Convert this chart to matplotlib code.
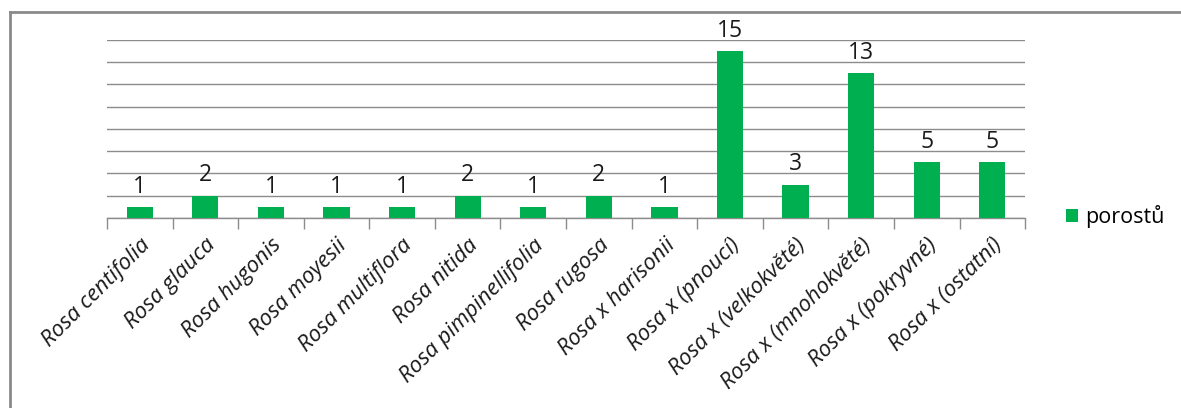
import numpy as np
import matplotlib
matplotlib.use("Agg")
import matplotlib.pyplot as plt
from matplotlib.lines import Line2D
from matplotlib.patches import Patch

# Number of stands per rose group
categories = [
    "Rosa centifolia", "Rosa glauca", "Rosa hugonis", "Rosa moyesii",
    "Rosa multiflora", "Rosa nitida", "Rosa pimpinellifolia", "Rosa rugosa",
    "Rosa x harisonii", "Rosa x (pnoucí)", "Rosa x (velkokvěté)",
    "Rosa x (mnohokvěté)", "Rosa x (pokryvné)", "Rosa x (ostatní)",
]
counts = [1, 2, 1, 1, 1, 2, 1, 2, 1, 15, 3, 13, 5, 5]
series_name = "porostů"

green = "#00B050"
grid_col = "#8C8C8C"
text_col = "#1a1a1a"
font = "Open Sans"

fig = plt.figure(figsize=(11.81, 4.08), dpi=100)
ax = fig.add_axes([0.0906, 0.4657, 0.7774, 0.4363])

x = np.arange(len(categories))
ax.bar(x, counts, width=0.4, color=green, zorder=3)

ax.set_xlim(-0.5, len(categories) - 0.5)
ax.set_ylim(0, 16)
ax.set_yticks(np.arange(0, 17, 2))
ax.yaxis.grid(True, color=grid_col, linewidth=1.0, zorder=0)
ax.tick_params(axis="y", left=False, labelleft=False)

for s in ["top", "right", "left"]:
    ax.spines[s].set_visible(False)
ax.spines["bottom"].set_color(grid_col)
ax.spines["bottom"].set_linewidth(1.0)

# tick marks between categories
ax.set_xticks(np.arange(-0.5, len(categories), 1.0), minor=True)
ax.tick_params(axis="x", which="minor", length=8, color=grid_col, width=1.0)
ax.set_xticks(x)
ax.tick_params(axis="x", which="major", length=0, pad=12)
ax.set_xticklabels(categories, rotation=45, ha="right", va="top",
                   rotation_mode="anchor", fontsize=16, style="italic",
                   family=font, color=text_col)

for xi, v in zip(x, counts):
    ax.annotate(str(v), (xi, v), xytext=(0, 6), textcoords="offset points",
                ha="center", va="bottom", fontsize=16.5, family=font,
                color=text_col)

handle = Patch(facecolor=green, edgecolor="none")
fig.legend([handle], [series_name], loc="center left",
           bbox_to_anchor=(0.886, 0.47), frameon=False, handlelength=0.55,
           handleheight=0.55, handletextpad=0.35,
           prop={"family": font, "size": 15.5})

# outer frame
fig.add_artist(Line2D([0.0085, 1.0], [1 - 12 / 408, 1 - 12 / 408],
                      transform=fig.transFigure, color="#8a8a8a", linewidth=2))
fig.add_artist(Line2D([0.0085, 0.0085], [0.0, 1 - 12 / 408],
                      transform=fig.transFigure, color="#8a8a8a", linewidth=2))

fig.savefig("out.png", dpi=100, facecolor="white")
